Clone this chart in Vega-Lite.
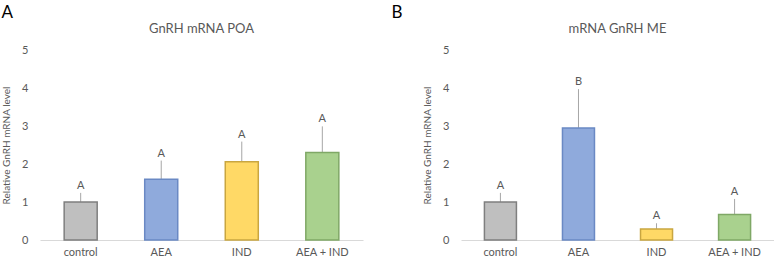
{
  "$schema": "https://vega.github.io/schema/vega-lite/v6.json",
  "padding": {"left": 1, "top": 4, "right": 0, "bottom": 0},
  "config": {
    "font": "Lato",
    "view": {"stroke": null},
    "concat": {"spacing": 28},
    "axis": {"labelColor": "#595959", "titleColor": "#595959", "labelFont": "Lato", "titleFont": "Lato"}
  },
  "datasets": {
    "bars": [
      {"panel": "A", "group": "control", "mean": 1.0, "upper": 1.24, "letter": "A"},
      {"panel": "A", "group": "AEA", "mean": 1.6, "upper": 2.09, "letter": "A"},
      {"panel": "A", "group": "IND", "mean": 2.06, "upper": 2.59, "letter": "A"},
      {"panel": "A", "group": "AEA + IND", "mean": 2.3, "upper": 2.99, "letter": "A"},
      {"panel": "B", "group": "control", "mean": 1.0, "upper": 1.24, "letter": "A"},
      {"panel": "B", "group": "AEA", "mean": 2.95, "upper": 3.97, "letter": "B"},
      {"panel": "B", "group": "IND", "mean": 0.29, "upper": 0.44, "letter": "A"},
      {"panel": "B", "group": "AEA + IND", "mean": 0.67, "upper": 1.08, "letter": "A"}
    ]
  },
  "hconcat": [
    {
      "title": {"text": "A", "anchor": "start", "fontSize": 17, "fontWeight": "normal", "color": "#000000", "font": "Lato", "offset": 1},
      "hconcat": [
        {
          "title": {"text": "GnRH mRNA POA", "fontSize": 13, "fontWeight": "normal", "color": "#595959", "font": "Lato", "offset": 8},
          "width": 323,
          "height": 190,
          "data": {"name": "bars"},
          "transform": [{"filter": "datum.panel === 'A'"}],
          "encoding": {
            "x": {"field": "group", "type": "nominal", "sort": ["control", "AEA", "IND", "AEA + IND"],
                  "scale": {"paddingInner": 0.59, "paddingOuter": 0.3},
                  "axis": {"title": null, "labelAngle": 0, "ticks": false, "tickSize": 0, "labelPadding": 6, "labelFontSize": 11, "domainColor": "#D9D9D9", "labelColor": "#595959"}},
            "y": {"field": "mean", "type": "quantitative", "scale": {"domain": [0, 5]},
                  "axis": {"title": "Relative GnRH mRNA level", "titleFontSize": 10, "titleFontWeight": "normal", "titlePadding": 10, "values": [0, 1, 2, 3, 4, 5], "grid": false, "domain": false, "ticks": false, "tickSize": 0, "labelPadding": 12, "labelFontSize": 11}}
          },
          "layer": [
            {
              "mark": {"type": "rule", "color": "#A6A6A6", "strokeWidth": 1},
              "encoding": {"y2": {"field": "upper"}}
            },
            {
              "mark": {"type": "bar", "strokeWidth": 1.5},
              "encoding": {
                "fill": {"field": "group", "type": "nominal", "legend": null,
                         "scale": {"domain": ["control", "AEA", "IND", "AEA + IND"], "range": ["#BFBFBF", "#8FAADC", "#FFD966", "#A9D18E"]}},
                "stroke": {"field": "group", "type": "nominal", "legend": null,
                           "scale": {"domain": ["control", "AEA", "IND", "AEA + IND"], "range": ["#7F7F7F", "#6A89C4", "#C9A640", "#7FA866"]}}
              }
            },
            {
              "mark": {"type": "text", "baseline": "bottom", "dy": -2, "fontSize": 11, "color": "#595959", "font": "Lato"},
              "encoding": {"y": {"field": "upper", "type": "quantitative"}, "text": {"field": "letter"}}
            }
          ]
        }
      ]
    },
    {
      "title": {"text": "B", "anchor": "start", "fontSize": 17, "fontWeight": "normal", "color": "#000000", "font": "Lato", "offset": 1, "dx": -31},
      "hconcat": [
        {
          "title": {"text": "mRNA GnRH ME", "fontSize": 13, "fontWeight": "normal", "color": "#595959", "font": "Lato", "offset": 8},
          "width": 313,
          "height": 190,
          "data": {"name": "bars"},
          "transform": [{"filter": "datum.panel === 'B'"}],
          "encoding": {
            "x": {"field": "group", "type": "nominal", "sort": ["control", "AEA", "IND", "AEA + IND"],
                  "scale": {"paddingInner": 0.59, "paddingOuter": 0.3},
                  "axis": {"title": null, "labelAngle": 0, "ticks": false, "tickSize": 0, "labelPadding": 6, "labelFontSize": 11, "domainColor": "#D9D9D9", "labelColor": "#595959"}},
            "y": {"field": "mean", "type": "quantitative", "scale": {"domain": [0, 5]},
                  "axis": {"title": "Relative GnRH mRNA level", "titleFontSize": 10, "titleFontWeight": "normal", "titlePadding": 10, "values": [0, 1, 2, 3, 4, 5], "grid": false, "domain": false, "ticks": false, "tickSize": 0, "labelPadding": 12, "labelFontSize": 11}}
          },
          "layer": [
            {
              "mark": {"type": "rule", "color": "#A6A6A6", "strokeWidth": 1},
              "encoding": {"y2": {"field": "upper"}}
            },
            {
              "mark": {"type": "bar", "strokeWidth": 1.5},
              "encoding": {
                "fill": {"field": "group", "type": "nominal", "legend": null,
                         "scale": {"domain": ["control", "AEA", "IND", "AEA + IND"], "range": ["#BFBFBF", "#8FAADC", "#FFD966", "#A9D18E"]}},
                "stroke": {"field": "group", "type": "nominal", "legend": null,
                           "scale": {"domain": ["control", "AEA", "IND", "AEA + IND"], "range": ["#7F7F7F", "#6A89C4", "#C9A640", "#7FA866"]}}
              }
            },
            {
              "mark": {"type": "text", "baseline": "bottom", "dy": -2, "fontSize": 11, "color": "#595959", "font": "Lato"},
              "encoding": {"y": {"field": "upper", "type": "quantitative"}, "text": {"field": "letter"}}
            }
          ]
        }
      ]
    }
  ]
}
